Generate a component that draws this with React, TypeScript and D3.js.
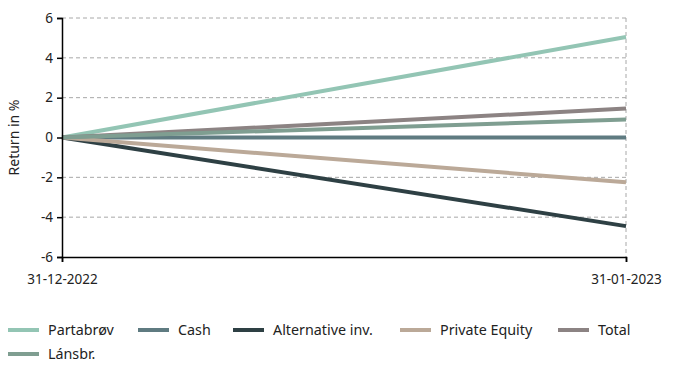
import React, { useEffect, useRef } from "react";
import * as d3 from "d3";

const dates = ["2022-12-31", "2023-01-31"];
const dateLabels = ["31-12-2022", "31-01-2023"];
const seriesNames = ["Partabrøv", "Cash", "Alternative inv.", "Private Equity", "Total", "Lánsbr."];
const seriesColors = ["#93c5b4", "#5f7b81", "#2e4044", "#bba998", "#8c8383", "#7f9e91"];
const partabrov = [0, 5.05];
const cash = [0, 0];
const alternative = [0, -4.45];
const privateEquity = [0, -2.25];
const total = [0, 1.45];
const lansbr = [0, 0.9];
const seriesValues = [partabrov, cash, alternative, privateEquity, total, lansbr];
const yTicks = [-6, -4, -2, 0, 2, 4, 6];

const FONT = "'Noto Sans', sans-serif";

export default function App() {
  const ref = useRef<SVGSVGElement>(null);
  useEffect(() => {
    const svg = d3.select(ref.current);
    svg.selectAll("*").remove();
    const left = 62, right = 626, top = 18, bottom = 257;
    const parse = d3.timeParse("%Y-%m-%d");
    const xd = dates.map((d) => parse(d) as Date);
    const x = d3.scaleTime().domain([xd[0], xd[1]]).range([left, right]);
    const y = d3.scaleLinear().domain([-6, 6]).range([bottom, top]);

    // gridlines
    const g = svg.append("g");
    yTicks.filter((t) => t !== -6).forEach((t) => {
      g.append("line").attr("x1", left).attr("x2", right).attr("y1", y(t)).attr("y2", y(t))
        .attr("stroke", "#a8a8a8").attr("stroke-width", 1).attr("stroke-dasharray", "4,3");
    });
    g.append("line").attr("x1", right).attr("x2", right).attr("y1", top).attr("y2", bottom)
      .attr("stroke", "#a8a8a8").attr("stroke-dasharray", "4,3");

    // lines
    const line = d3.line<number>().x((_, i) => x(xd[i])).y((v) => y(v));
    seriesValues.forEach((vals, i) => {
      svg.append("path").attr("d", line(vals) as string).attr("fill", "none")
        .attr("stroke", seriesColors[i]).attr("stroke-width", 4).attr("stroke-linecap", "butt");
    });

    // axes
    const yAxis = svg.append("g").attr("transform", `translate(${left},0)`)
      .call(d3.axisLeft(y).tickValues(yTicks).tickSize(5).tickPadding(4).tickFormat((d) => `${d}`));
    yAxis.select(".domain").attr("stroke", "#000").attr("stroke-width", 1.5);
    yAxis.selectAll("line").attr("stroke", "#000").attr("stroke-width", 1.5);
    yAxis.selectAll("text").attr("font-family", FONT).attr("font-size", 13.5).attr("fill", "#222");

    const xAxis = svg.append("g").attr("transform", `translate(0,${bottom})`)
      .call(d3.axisBottom(x).tickValues(xd).tickSize(5).tickPadding(12)
        .tickFormat((_, i) => dateLabels[i]));
    xAxis.select(".domain").attr("stroke", "#000").attr("stroke-width", 1.5);
    xAxis.selectAll("line").attr("stroke", "#000").attr("stroke-width", 1.5);
    xAxis.selectAll("text").attr("font-family", FONT).attr("font-size", 13.5).attr("fill", "#222");

    // y title
    svg.append("text").attr("transform", `translate(19,${y(0)}) rotate(-90)`)
      .attr("text-anchor", "middle").attr("font-family", FONT).attr("font-size", 14)
      .attr("fill", "#222").text("Return in %");

    // legend
    const legendX = [8, 138, 233, 400, 558];
    const leg = svg.append("g");
    seriesNames.forEach((name, i) => {
      const row = i < 5 ? 0 : 1;
      const lx = i < 5 ? legendX[i] : legendX[0];
      const ly = row === 0 ? 330 : 354;
      leg.append("line").attr("x1", lx).attr("x2", lx + 31).attr("y1", ly).attr("y2", ly)
        .attr("stroke", seriesColors[i]).attr("stroke-width", 4);
      leg.append("text").attr("x", lx + 40).attr("y", ly + 5).attr("font-family", FONT)
        .attr("font-size", 14.3).attr("fill", "#222").text(name);
    });
  }, []);
  return (
    <svg ref={ref} width={680} height={375} style={{ position: "absolute", left: 0, top: 0, background: "#fff" }} />
  );
}
